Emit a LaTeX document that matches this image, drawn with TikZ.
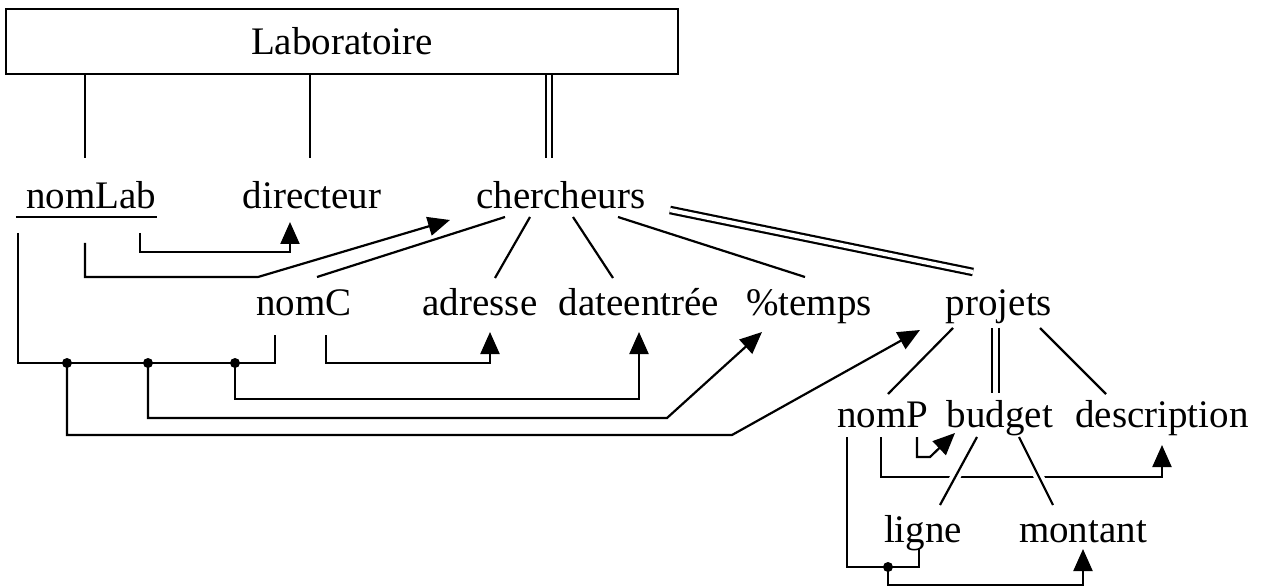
\documentclass[tikz,border=0pt]{standalone}
\usepackage{fontspec}
\setmainfont{Liberation Serif}
\usetikzlibrary{arrows.meta}
\begin{document}
\begin{tikzpicture}[x=1pt,y=-1pt,line width=2.2pt,
  lbl/.style={inner sep=0pt,anchor=base,font=\fontsize{39}{40}\selectfont},
  arr/.style={-{Triangle[length=22pt,width=19pt]}},
  dbl/.style={double,double distance=4.2pt},
  junction/.style={circle,fill,inner sep=0pt,minimum size=10pt},
  gap/.style={preaction={draw,white,line width=10pt,shorten <=12pt,shorten >=12pt}}]
\useasboundingbox (0,0) rectangle (1262,588);
\fill[white] (0,0) rectangle (1262,588);

% entity box
\node[draw,line width=2.2pt,minimum width=672pt,minimum height=65pt,inner sep=0pt,
      anchor=north west,font=\fontsize{39}{40}\selectfont] (lab) at (5,8) {Laboratoire};

% labels
\node[lbl] (nomLab) at (91,209) {nomLab};
\node[lbl] (directeur) at (312,209) {directeur};
\node[lbl] (chercheurs) at (561,209) {chercheurs};
\node[lbl] (nomC) at (304,316) {nomC};
\node[lbl] (adresse) at (480,316) {adresse};
\node[lbl] (dateentree) at (639,316) {dateentrée};
\node[lbl] (temps) at (809,316) {\%temps};
\node[lbl] (projets) at (999,316) {projets};
\node[lbl] (nomP) at (883,427) {nomP};
\node[lbl] (budget) at (1000,427) {budget};
\node[lbl] (description) at (1162,427) {description};
\node[lbl] (ligne) at (923,542) {ligne};
\node[lbl] (montant) at (1083,542) {montant};

% underline of the key
\draw ([shift={(-9pt,-8pt)}]nomLab.base west) -- ([yshift=-8pt]nomLab.base east);

% coordinates of connector ends
\coordinate (a1) at (85,158);
\coordinate (a2) at (310,158);
\coordinate (a3) at (549,158);
\coordinate (nl1) at (140,233);
\coordinate (nl2) at (85,243);
\coordinate (nl3) at (18,233);
\coordinate (dirIn) at (290,222);
\coordinate (chIn) at (450,220);
\coordinate (c1) at (505,217);
\coordinate (c2) at (530,217);
\coordinate (c3) at (573,217);
\coordinate (c4) at (618,217);
\coordinate (c5) at (670,210);
\coordinate (nC1) at (317,277);
\coordinate (ad1) at (495,278);
\coordinate (de1) at (613,278);
\coordinate (tp1) at (805,277);
\coordinate (pj1) at (973,272);
\coordinate (nc1) at (275,335);
\coordinate (nc2) at (326,335);
\coordinate (adIn) at (490,332);
\coordinate (deIn) at (639,332);
\coordinate (tpIn) at (762,332);
\coordinate (pjIn) at (920,330);
\coordinate (p1) at (953,328);
\coordinate (p2) at (995.5,328);
\coordinate (p3) at (1040,328);
\coordinate (nP1) at (888,394);
\coordinate (bu1) at (995.5,393);
\coordinate (ds1) at (1106,394);
\coordinate (np1) at (847,437);
\coordinate (np2) at (881,437);
\coordinate (np3) at (917,437);
\coordinate (buIn) at (955,433);
\coordinate (dsIn) at (1162,445);
\coordinate (b1) at (977,437);
\coordinate (b2) at (1019,437);
\coordinate (li1) at (940,505);
\coordinate (mo1) at (1053,505);
\coordinate (li2) at (919,548);
\coordinate (moIn) at (1083,549);

% links from the entity box
\draw (lab.south -| a1) -- (a1);
\draw (lab.south -| a2) -- (a2);
\draw[dbl] (lab.south -| a3) -- (a3);

% chercheurs subtree
\draw (c1) -- (nC1);
\draw (c2) -- (ad1);
\draw (c3) -- (de1);
\draw (c4) -- (tp1);
\draw[dbl] (c5) -- (pj1);

% dependencies from nomLab
\draw[arr] (nl1) -- (140,252) -- (290,252) -- (dirIn);
\draw[arr] (nl2) -- (85,277) -- (258,277) -- (chIn);

% composite key nomLab + nomC
\draw (nl3) -- (18,363) -- (275,363) -- (nc1);
\node[junction] (j1) at (67,363) {};
\node[junction] (j2) at (148,363) {};
\node[junction] (j3) at (235,363) {};
\draw[arr] (j3.center) -- (235,399) -- (639,399) -- (deIn);
\draw[arr] (j2.center) -- (148,418) -- (667,418) -- (tpIn);
\draw[arr] (j1.center) -- (67,435) -- (732,435) -- (pjIn);
\draw[arr] (nc2) -- (326,363) -- (490,363) -- (adIn);

% projets subtree
\draw (p1) -- (nP1);
\draw[dbl] (p2) -- (bu1);
\draw (p3) -- (ds1);

% dependencies from nomP
\draw[arr] (np3) -- (917,457) -- (930,457) -- (buIn);
\draw[arr] (np2) -- (881,477) -- (1162,477) -- (dsIn);

% budget subtree
\draw[gap] (b1) -- (li1);
\draw[gap] (b2) -- (mo1);

% composite key nomP + ligne
\draw (np1) -- (847,567) -- (919,567) -- (li2);
\node[junction] (j4) at (888,567) {};
\draw[arr] (j4.center) -- (888,585) -- (1083,585) -- (moIn);
\end{tikzpicture}
\end{document}
